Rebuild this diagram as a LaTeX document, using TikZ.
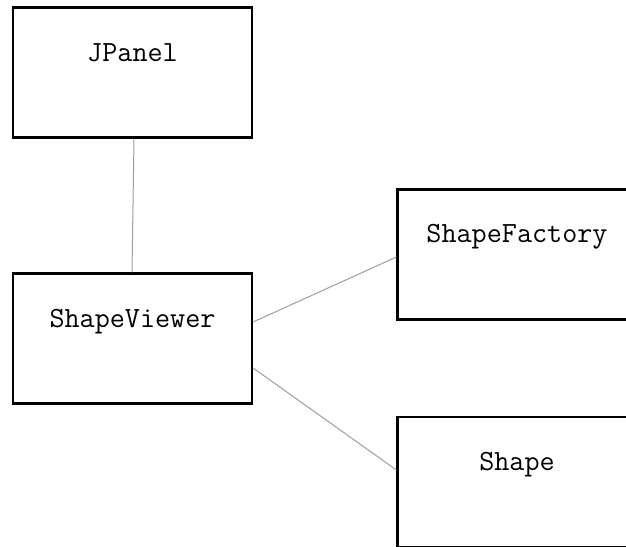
\documentclass[tikz,border=0pt]{standalone}
\usetikzlibrary{positioning}
\begin{document}
\begin{tikzpicture}[x=1pt,y=1pt,
  classbox/.style={draw=black, line width=2.2pt, fill=white, rectangle,
    minimum width=239pt, minimum height=130pt, inner sep=0pt},
  classname/.style={font=\ttfamily\fontsize{29.3}{33}\selectfont, anchor=base, inner sep=0pt},
  link/.style={draw=black!38, line width=1pt}]
  \clip (0,0) rectangle (626,-546);
  \fill[white] (0,0) rectangle (626,-546);

  % class boxes
  \node[classbox] (jp) at (132.5,-72.5) {};
  \node[classbox] (sv) at (132.5,-338.5) {};
  \node[classbox] (sf) at (517,-254.5) {};
  \node[classbox] (sh) at (517,-482) {};

  % class names
  \node[classname] (jpt) at ([yshift=-55pt]jp.north) {JPanel};
  \node[classname] (svt) at ([yshift=-55pt]sv.north) {ShapeViewer};
  \node[classname] (sft) at ([yshift=-54pt]sf.north) {ShapeFactory};
  \node[classname] (sht) at ([yshift=-55pt]sh.north) {Shape};

  % associations
  \draw[link] ([xshift=1.5pt]jp.south) -- ([xshift=-0.5pt]sv.north);
  \draw[link] ([yshift=16.5pt]sv.east) -- ([yshift=-2.5pt]sf.west);
  \draw[link] ([yshift=-29.5pt]sv.east) -- ([yshift=12pt]sh.west);
\end{tikzpicture}
\end{document}
